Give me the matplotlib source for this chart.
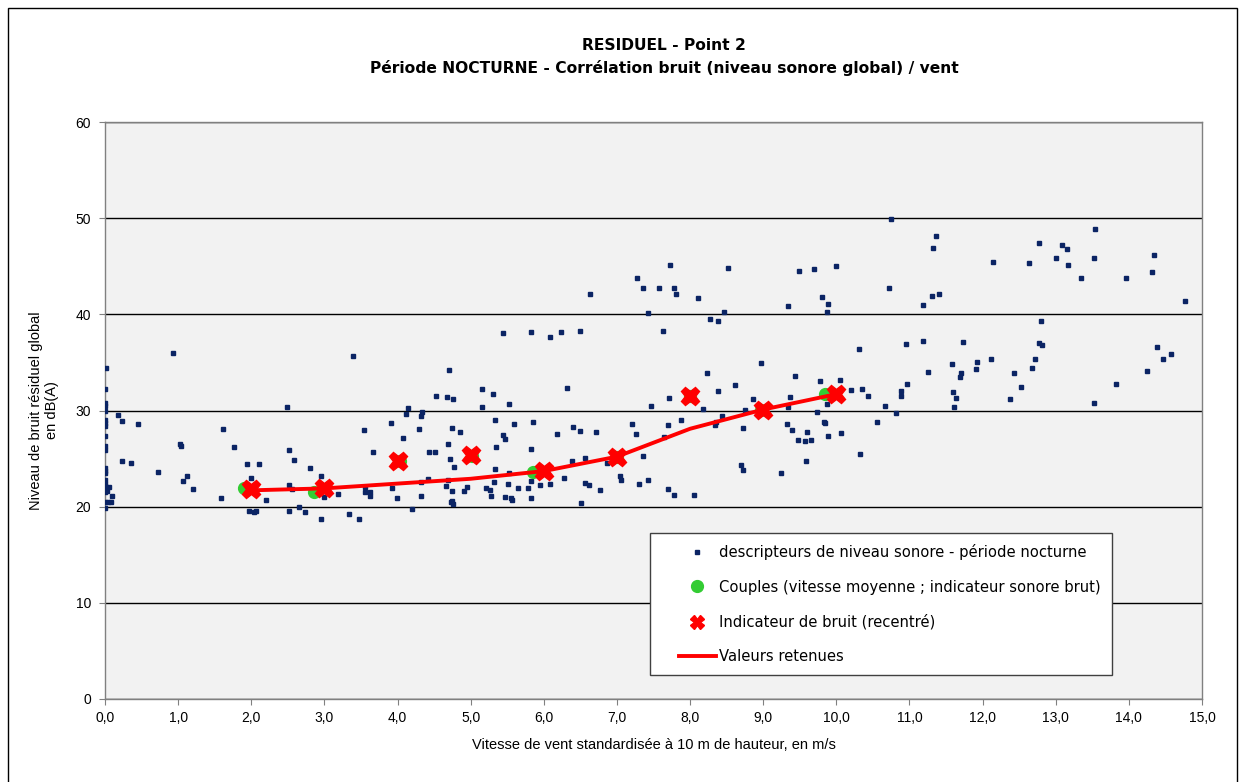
import matplotlib
matplotlib.use("Agg")
import matplotlib.pyplot as plt
from matplotlib.lines import Line2D
from matplotlib.legend_handler import HandlerLine2D
from matplotlib.patches import Rectangle
from matplotlib.ticker import FuncFormatter, MultipleLocator

plt.rcParams["font.family"] = ["Liberation Sans", "DejaVu Sans"]

# descripteurs de niveau sonore (vitesse de vent m/s, niveau dB(A))
vent = [
    0.93, 0.01, 0.0, 0.0, 0.0, 0.0, 2.49, 0.18, 0.23, 0.45, 0.0, 0.0, 0.0, 1.62, 0.0, 1.77, 1.02,
    1.04, 2.52, 0.0, 0.0, 0.23, 0.36, 1.94, 2.10, 0.0, 0.0, 0.0, 0.72, 1.12, 1.07, 2.0, 0.0, 0.0,
    0.0, 0.05, 0.0, 0.03, 1.21, 0.1, 0.0, 0.04, 0.08, 1.58, 2.2, 0.0, 1.97, 2.04, 2.07, 2.51, 2.52,
    3.39, 4.71, 4.52, 4.67, 4.76, 4.14, 4.11, 4.33, 4.32, 3.91, 3.54, 4.3, 4.75, 4.85, 4.08, 4.69,
    2.59, 3.66, 4.43, 4.51, 4.72, 4.77, 2.80, 2.95, 4.42, 4.32, 4.69, 3.56, 3.93, 4.66, 4.95, 2.56,
    3.55, 3.62, 3.63, 3.19, 2.99, 4.74, 4.91, 3.99, 4.32, 4.74, 4.76, 4.73, 2.65, 2.73, 4.2, 3.34,
    3.47, 2.96,
    7.27, 7.36, 7.58, 6.63, 7.43, 5.44, 5.83, 6.09, 6.23, 6.49, 5.16, 5.31, 5.16, 5.53, 6.32, 7.47,
    5.33, 5.59, 5.85, 7.21, 7.26, 6.4, 6.5, 6.72, 6.18, 5.44, 5.47, 5.35, 5.82, 7.35, 6.39, 6.57,
    5.33, 5.52, 5.83, 5.95, 6.08, 6.28, 5.32, 5.51, 5.21, 5.27, 5.65, 5.79, 5.28, 5.47, 5.55, 5.56,
    5.82, 6.56, 6.62, 6.77, 7.04, 7.05, 7.30, 7.43, 6.51, 6.87,
    7.73, 8.52, 9.49, 9.69, 10.0, 7.78, 7.81, 8.11, 9.34, 9.8, 9.88, 9.87, 8.47, 8.27, 8.38, 7.63,
    8.97, 9.44, 8.23, 8.61, 9.78, 7.71, 8.05, 8.38, 8.86, 9.37, 9.34, 8.18, 8.44, 8.75, 9.74, 9.87,
    9.98, 7.7, 7.88, 8.35, 8.34, 8.73, 9.33, 9.39, 9.83, 9.84, 9.88, 9.6, 9.47, 9.57, 9.66, 7.64,
    9.59, 8.7, 8.73, 9.24, 7.7, 7.78, 8.05,
    10.75, 11.36, 11.32, 12.14, 10.72, 11.31, 11.4, 11.19, 10.31, 10.95, 11.18, 11.73, 12.12, 11.92,
    11.91, 11.25, 11.58, 11.7, 11.69, 12.43, 12.52, 12.37, 10.97, 10.05, 10.2, 10.35, 10.43, 10.88,
    10.89, 11.59, 11.63, 11.61, 10.66, 10.81, 10.56, 10.06, 10.32,
    13.54, 12.77, 13.08, 13.16, 13.0, 13.52, 13.17, 12.63, 14.35, 14.32, 13.35, 13.96, 14.77, 12.8,
    12.77, 12.81, 12.72, 12.67, 14.39, 14.58, 14.47, 14.25, 13.83, 13.53,
]
niveau = [
    36.0, 34.4, 32.2, 30.8, 30.5, 30.0, 30.4, 29.5, 28.9, 28.6, 29.0, 28.7, 28.4, 28.1, 27.4, 26.2, 26.5,
    26.3, 25.9, 26.3, 25.9, 24.7, 24.5, 24.4, 24.4, 24.0, 23.7, 23.5, 23.6, 23.2, 22.7, 23.0, 22.8, 22.4,
    22.1, 22.0, 21.5, 21.6, 21.8, 21.1, 20.5, 20.5, 20.5, 20.9, 20.7, 19.9, 19.5, 19.4, 19.5, 19.6, 22.3,
    35.7, 34.2, 31.5, 31.4, 31.2, 30.3, 29.6, 29.8, 29.4, 28.7, 28.0, 28.1, 28.2, 27.8, 27.1, 26.5,
    24.9, 25.7, 25.7, 25.7, 25.0, 24.1, 24.0, 23.2, 22.9, 22.6, 22.8, 22.0, 21.9, 22.1, 22.0, 21.8,
    21.5, 21.5, 21.1, 21.3, 21.0, 21.6, 21.6, 20.9, 21.1, 20.6, 20.3, 20.5, 20.0, 19.4, 19.8, 19.2,
    18.7, 18.7,
    43.8, 42.7, 42.7, 42.1, 40.1, 38.1, 38.2, 37.6, 38.2, 38.3, 32.2, 31.7, 30.4, 30.7, 32.3, 30.5,
    29.0, 28.6, 28.8, 28.6, 27.6, 28.3, 27.9, 27.8, 27.6, 27.5, 27.0, 26.2, 26.0, 25.3, 24.7, 25.1,
    23.9, 23.5, 22.7, 22.3, 22.4, 23.0, 22.6, 22.4, 21.9, 21.7, 21.9, 21.9, 21.1, 21.0, 20.9, 20.7,
    20.9, 22.5, 22.3, 21.7, 23.2, 22.8, 22.4, 22.8, 20.4, 24.5,
    45.1, 44.8, 44.5, 44.7, 45.0, 42.7, 42.1, 41.7, 40.9, 41.8, 41.1, 40.2, 40.2, 39.5, 39.3, 38.3,
    34.9, 33.6, 33.9, 32.7, 33.1, 31.3, 31.9, 32.0, 31.2, 31.4, 30.4, 30.2, 29.4, 30.1, 29.8, 30.7,
    31.5, 28.5, 29.0, 28.8, 28.5, 28.2, 28.6, 28.0, 28.8, 28.7, 27.4, 27.8, 26.9, 26.8, 26.9, 27.2,
    24.8, 24.3, 23.8, 23.5, 21.8, 21.2, 21.2,
    49.9, 48.1, 46.9, 45.4, 42.7, 41.9, 42.1, 41.0, 36.4, 36.9, 37.2, 37.1, 35.4, 35.0,
    34.3, 34.0, 34.8, 33.9, 33.5, 33.9, 32.4, 31.2, 32.8, 33.2, 32.1, 32.2, 31.5, 32.0,
    31.5, 31.9, 31.3, 30.4, 30.5, 29.7, 28.8, 27.7, 25.5,
    48.9, 47.4, 47.2, 46.8, 45.9, 45.9, 45.1, 45.3, 46.2, 44.4, 43.8, 43.8, 41.4, 39.3,
    37.0, 36.8, 35.4, 34.4, 36.6, 35.9, 35.4, 34.1, 32.8, 30.8,
]

# couples (vitesse moyenne ; indicateur sonore brut)
couples_vent = [1.9, 2.86, 4.03, 5.02, 5.85, 7.0, 8.0, 8.97, 9.85]
couples_niveau = [21.9, 21.5, 24.8, 25.3, 23.6, 25.2, 31.5, 30.1, 31.7]

# indicateur de bruit recentré et valeurs retenues par classe de vent
classes_vent = [2, 3, 4, 5, 6, 7, 8, 9, 10]
indicateur = [21.8, 21.9, 24.8, 25.4, 23.7, 25.2, 31.5, 30.1, 31.7]
retenues = [21.7, 21.9, 22.4, 22.9, 23.7, 25.2, 28.1, 30.1, 31.7]

fig = plt.figure(figsize=(12.43, 7.82), dpi=100)
fig.patch.set_facecolor("white")
fig.patches.append(Rectangle((8 / 1243, -0.05), 1229 / 1243, 1.05 - 8 / 782,
                             transform=fig.transFigure, fill=False,
                             edgecolor="black", linewidth=1.0))

ax = fig.add_axes([105 / 1243, 1 - 699 / 782, 1097 / 1243, 577 / 782])
ax.set_facecolor("#F2F2F2")

ax.plot(vent, niveau, linestyle="none", marker="s", markersize=3.4,
        color="#0B2464", label="descripteurs de niveau sonore - période nocturne", zorder=3)
ax.plot(couples_vent, couples_niveau, linestyle="none", marker="o", markersize=8.5,
        color="#33CC33", label="Couples (vitesse moyenne ; indicateur sonore brut)", zorder=4)
ax.plot(classes_vent, indicateur, linestyle="none", marker="X", markersize=13,
        color="#FF0000", label="Indicateur de bruit (recentré)", zorder=6)
ax.plot(classes_vent, retenues, color="#FF0000", linewidth=2.8,
        label="Valeurs retenues", zorder=5)

ax.set_xlim(0, 15)
ax.set_ylim(0, 60)
ax.xaxis.set_major_locator(MultipleLocator(1))
ax.yaxis.set_major_locator(MultipleLocator(10))
ax.xaxis.set_major_formatter(FuncFormatter(lambda v, p: f"{v:.1f}".replace(".", ",")))
ax.yaxis.grid(True, color="black", linewidth=1.0)
ax.set_axisbelow(True)
for side in ["top", "right", "left", "bottom"]:
    ax.spines[side].set_color("#808080")
    ax.spines[side].set_linewidth(1.0)
ax.tick_params(axis="both", direction="out", length=4, color="#808080",
               labelsize=10, pad=6)
ax.tick_params(axis="x", pad=5)

ax.set_xlabel("Vitesse de vent standardisée à 10 m de hauteur, en m/s",
              fontsize=10.5, labelpad=9)
ax.set_ylabel("Niveau de bruit résiduel global\nen dB(A)", fontsize=10.5, labelpad=12)

fig.text(664 / 1243, 1 - 45 / 782, "RESIDUEL - Point 2", ha="center", va="center",
         fontsize=11.2, fontweight="bold", family=["DejaVu Sans"])
fig.text(664 / 1243, 1 - 68 / 782,
         "Période NOCTURNE - Corrélation bruit (niveau sonore global) / vent",
         ha="center", va="center", fontsize=11.2, fontweight="bold", family=["DejaVu Sans"])

# legend keys sit in the right part of a wide handle box
leg = ax.legend(loc="upper left", bbox_to_anchor=((650 - 105) / 1097, (699 - 533) / 577),
                prop={"family": "DejaVu Sans", "size": 10.6}, frameon=True,
                fancybox=False, edgecolor="#404040", labelspacing=1.33, borderpad=0.75,
                handlelength=3.75, handletextpad=0.2, borderaxespad=0,
                handler_map={Line2D: HandlerLine2D(xpad=1.2)})
leg.legend_handles[2].set_markersize(10)
leg.get_frame().set_facecolor("white")
leg.get_frame().set_alpha(1)
leg.get_frame().set_linewidth(1.0)

fig.savefig("out.png", dpi=100)
